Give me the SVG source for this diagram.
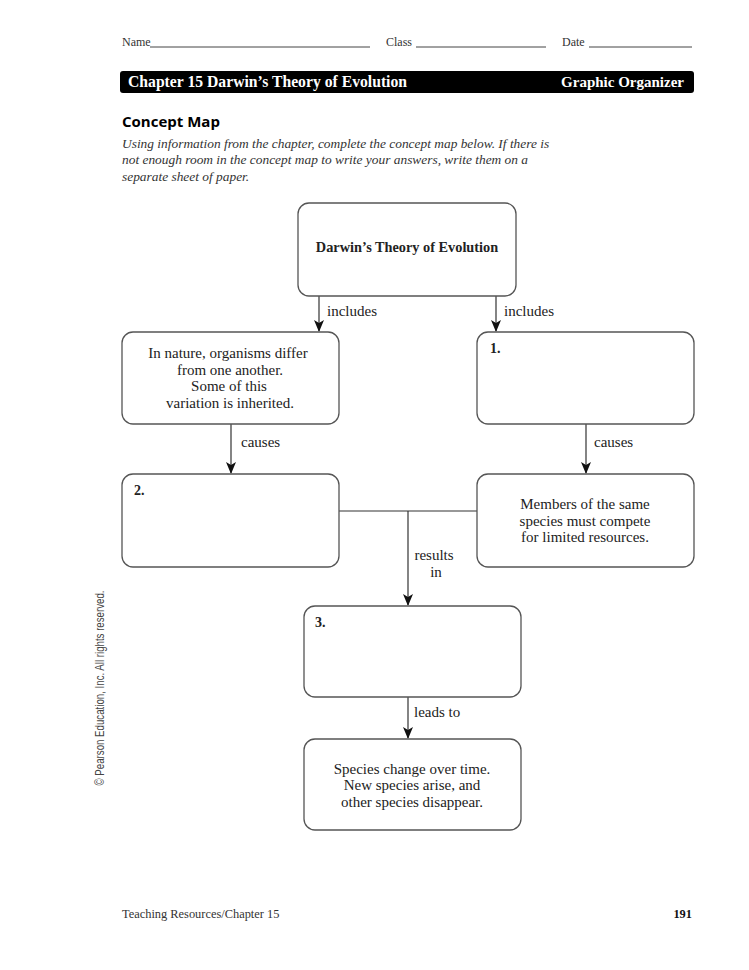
<svg xmlns="http://www.w3.org/2000/svg" width="749" height="970" viewBox="0 0 749 970">
<defs>
<marker id="ah" markerWidth="12" markerHeight="10" refX="11" refY="5" orient="auto" markerUnits="userSpaceOnUse" viewBox="0 0 12 10">
<path d="M0,0 L12,5 L0,10 L3,5 Z" fill="#111"/>
</marker>
<style>
.box{fill:#fff;stroke:#555;stroke-width:1.3}
.t{font-family:"Liberation Serif",serif;font-size:15px;fill:#222}
.tc{font-family:"Liberation Serif",serif;font-size:15px;fill:#222;text-anchor:middle}
.b{font-weight:bold}
.hd{font-family:"Liberation Serif",serif;font-size:12px;fill:#333}
.ln{stroke:#444;stroke-width:1}
.con{stroke:#333;stroke-width:1.2;fill:none}
</style>
</defs>
<rect width="749" height="970" fill="#fff"/>
<!-- header -->
<text class="hd" x="122" y="46">Name</text>
<line class="ln" x1="150" y1="47" x2="370" y2="47"/>
<text class="hd" x="386" y="46">Class</text>
<line class="ln" x1="416" y1="47" x2="546" y2="47"/>
<text class="hd" x="562" y="46">Date</text>
<line class="ln" x1="589" y1="47" x2="692" y2="47"/>
<rect x="120" y="71" width="574" height="22" rx="3" fill="#000"/>
<text x="128" y="87" font-family="Liberation Serif,serif" font-size="15.7" font-weight="bold" fill="#fff">Chapter 15  Darwin’s Theory of Evolution</text>
<text x="684" y="87" font-family="Liberation Serif,serif" font-size="15" font-weight="bold" fill="#fff" text-anchor="end">Graphic Organizer</text>
<text x="122" y="127" font-family="Open Sans,sans-serif" font-size="15" font-weight="bold" fill="#000">Concept Map</text>
<g font-family="Liberation Serif,serif" font-size="13.4" font-style="italic" fill="#333">
<text x="122" y="148">Using information from the chapter, complete the concept map below. If there is</text>
<text x="122" y="164">not enough room in the concept map to write your answers, write them on a</text>
<text x="122" y="181">separate sheet of paper.</text>
</g>
<!-- connectors -->
<g id="connectors">
<line class="con" x1="319" y1="296" x2="319" y2="331" marker-end="url(#ah)"/>
<line class="con" x1="496" y1="296" x2="496" y2="331" marker-end="url(#ah)"/>
<line class="con" x1="231" y1="424" x2="231" y2="473" marker-end="url(#ah)"/>
<line class="con" x1="586" y1="424" x2="586" y2="473" marker-end="url(#ah)"/>
<line class="con" x1="339" y1="511" x2="477" y2="511"/>
<line class="con" x1="408" y1="511" x2="408" y2="605" marker-end="url(#ah)"/>
<line class="con" x1="408" y1="697" x2="408" y2="738" marker-end="url(#ah)"/>
<text class="t" x="327" y="316">includes</text>
<text class="t" x="504" y="316">includes</text>
<text class="t" x="241" y="447">causes</text>
<text class="t" x="594" y="447">causes</text>
<text class="tc" x="434" y="560">results</text>
<text class="tc" x="436" y="577">in</text>
<text class="t" x="414" y="717">leads to</text>
</g>
<!-- nodes -->
<g id="n-top">
<rect class="box" x="298" y="203" width="218" height="93" rx="11"/>
<text class="tc b" x="407" y="252" style="font-size:14.3px">Darwin’s Theory of Evolution</text>
</g>
<g id="n-variation">
<rect class="box" x="122" y="332" width="217" height="92" rx="11"/>
<text class="tc" x="228" y="358">In nature, organisms differ</text>
<text class="tc" x="230" y="375">from one another.</text>
<text class="tc" x="229" y="391">Some of this</text>
<text class="tc" x="230" y="408">variation is inherited.</text>
</g>
<g id="n-1">
<rect class="box" x="477" y="332" width="217" height="92" rx="11"/>
<text class="t b" x="490" y="353" style="font-size:14px">1.</text>
</g>
<g id="n-2">
<rect class="box" x="122" y="474" width="217" height="93" rx="11"/>
<text class="t b" x="134" y="495" style="font-size:14px">2.</text>
</g>
<g id="n-compete">
<rect class="box" x="477" y="474" width="217" height="93" rx="11"/>
<text class="tc" x="585" y="509">Members of the same</text>
<text class="tc" x="585" y="526">species must compete</text>
<text class="tc" x="585" y="542">for limited resources.</text>
</g>
<g id="n-3">
<rect class="box" x="304" y="606" width="217" height="91" rx="11"/>
<text class="t b" x="315" y="627" style="font-size:14px">3.</text>
</g>
<g id="n-change">
<rect class="box" x="304" y="739" width="217" height="91" rx="11"/>
<text class="tc" x="412" y="774">Species change over time.</text>
<text class="tc" x="412" y="790">New species arise, and</text>
<text class="tc" x="412" y="807">other species disappear.</text>
</g>
<!-- side and footer -->
<text transform="translate(104,688) rotate(-90)" font-family="Liberation Sans,sans-serif" font-size="13" fill="#444" text-anchor="middle" textLength="195" lengthAdjust="spacingAndGlyphs">© Pearson Education, Inc. All rights reserved.</text>
<text x="122" y="918" font-family="Liberation Serif,serif" font-size="12.4" fill="#333">Teaching Resources/Chapter 15</text>
<text x="692" y="918" font-family="Liberation Serif,serif" font-size="12.4" font-weight="bold" fill="#111" text-anchor="end">191</text>
</svg>
